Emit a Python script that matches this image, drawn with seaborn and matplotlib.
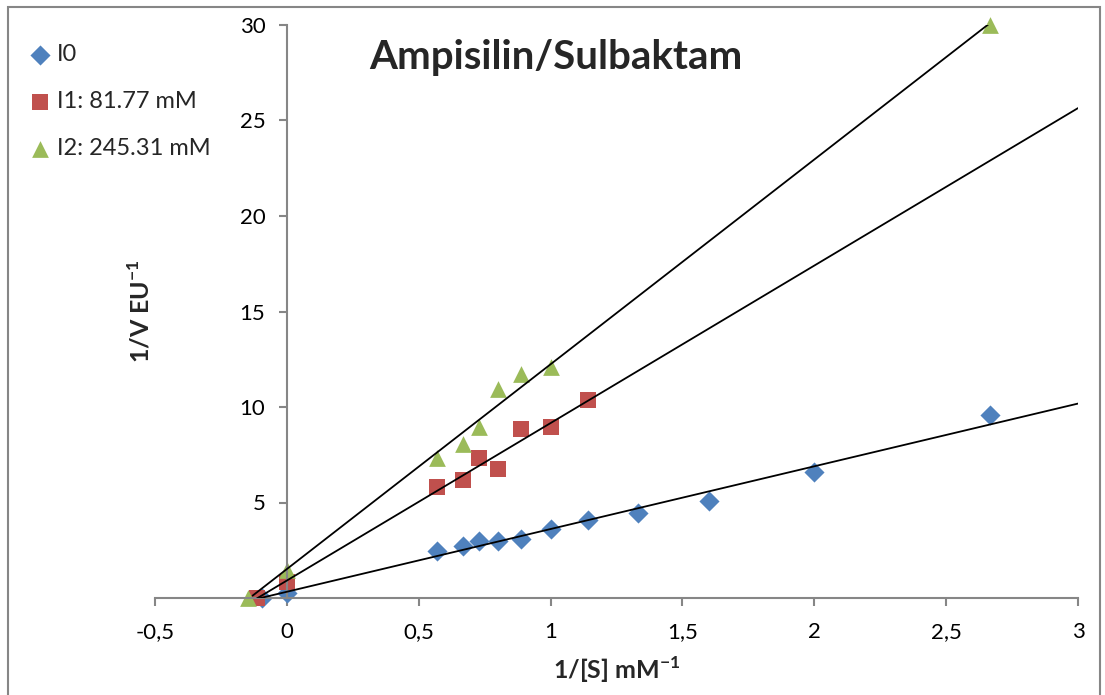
import numpy as np
import pandas as pd
import matplotlib
matplotlib.use("Agg")
import matplotlib.pyplot as plt
import matplotlib.patches as mpatches
from matplotlib.ticker import FixedLocator, FixedFormatter
import seaborn as sns

# Lineweaver-Burk data: 1/[S] (mM^-1) and 1/V (EU^-1)
i0_x = [-0.095, 0.0, 0.571, 0.667, 0.727, 0.800, 0.889, 1.000, 1.143, 1.333, 1.600, 2.000, 2.667]
i0_y = [0.0, 0.28, 2.48, 2.72, 2.97, 2.98, 3.07, 3.63, 4.07, 4.43, 5.10, 6.60, 9.60]

i1_x = [-0.114, 0.0, 0.571, 0.667, 0.727, 0.800, 0.889, 1.000, 1.143]
i1_y = [0.0, 0.85, 5.81, 6.19, 7.33, 6.74, 8.86, 8.95, 10.35]

i2_x = [-0.148, 0.0, 0.571, 0.667, 0.727, 0.800, 0.889, 1.000, 2.667]
i2_y = [0.0, 1.45, 7.31, 8.06, 8.94, 10.93, 11.74, 12.11, 30.0]

series_labels = ["I0", "I1: 81.77 mM", "I2: 245.31 mM"]
series_colors = ["#4F81BD", "#C0504D", "#9BBB59"]
series_markers = ["D", "s", "^"]
series_sizes = [105, 120, 145]

x_ticks = [-0.5, 0, 0.5, 1, 1.5, 2, 2.5, 3]
x_tick_labels = ["-0,5", "0", "0,5", "1", "1,5", "2", "2,5", "3"]
y_ticks = [0, 5, 10, 15, 20, 25, 30]
y_tick_labels = ["0", "5", "10", "15", "20", "25", "30"]

trend_start, trend_end = -0.13, 3.0

sns.set_theme(style="white")
plt.rcParams["font.family"] = ["Lato", "DejaVu Sans"]
plt.rcParams["mathtext.fontset"] = "custom"
plt.rcParams["mathtext.rm"] = "Lato"
plt.rcParams["mathtext.bf"] = "Lato:bold"

W, H = 1105, 695
fig = plt.figure(figsize=(W / 100, H / 100), dpi=100)
ax = fig.add_axes([155 / W, 1 - 598 / H, (1078 - 155) / W, (598 - 25) / H])

grey = "#868686"

frames = []
for xs, ys, lab in zip([i0_x, i1_x, i2_x], [i0_y, i1_y, i2_y], series_labels):
    frames.append(pd.DataFrame({"inv_s": xs, "inv_v": ys, "series": lab}))
df = pd.concat(frames, ignore_index=True)

# linear trend lines (least squares over each series)
xs_line = np.array([trend_start, trend_end])
for lab in series_labels:
    sub = df[df["series"] == lab]
    slope, icpt = np.polyfit(sub["inv_s"], sub["inv_v"], 1)
    line_df = pd.DataFrame({"inv_s": xs_line, "inv_v": slope * xs_line + icpt})
    sns.lineplot(data=line_df, x="inv_s", y="inv_v", ax=ax, color="black",
                 linewidth=1.3, legend=False, zorder=3)

for lab, col, mk, sz in zip(series_labels, series_colors, series_markers, series_sizes):
    sub = df[df["series"] == lab]
    sns.scatterplot(data=sub, x="inv_s", y="inv_v", ax=ax, color=col, marker=mk,
                    s=sz, linewidth=0, label=lab, clip_on=False, zorder=2, legend=False)

ax.set_xlim(-0.5, 3)
ax.set_ylim(0, 30)

ax.spines["left"].set_position(("data", 0))
for side in ["top", "right"]:
    ax.spines[side].set_visible(False)
for side in ["left", "bottom"]:
    ax.spines[side].set_color(grey)
    ax.spines[side].set_linewidth(1.5)

ax.xaxis.set_major_locator(FixedLocator(x_ticks))
ax.xaxis.set_major_formatter(FixedFormatter(x_tick_labels))
ax.yaxis.set_major_locator(FixedLocator(y_ticks))
ax.yaxis.set_major_formatter(FixedFormatter(y_tick_labels))
ax.tick_params(axis="x", direction="out", length=5.5, width=1.5, color=grey,
               labelsize=16, pad=12, labelcolor="black", bottom=True)
ax.tick_params(axis="y", direction="out", length=5.5, width=1.5, color=grey,
               labelsize=16, pad=10, labelcolor="black", left=True)

ax.set_xlabel(r"1/[S] mM$^{\mathbf{-1}}$", fontsize=18, fontweight="bold", va="center")
ax.xaxis.set_label_coords(0.5, (598 - 670) / 573)
ax.set_ylabel(r"1/V EU$^{\mathbf{-1}}$", fontsize=18, fontweight="bold", va="center")
ax.yaxis.set_label_coords((140 - 155) / 923, 0.5)

fig.text(556 / W, 1 - 57 / H, "Ampisilin/Sulbaktam", fontsize=29,
         fontweight="bold", ha="center", va="center")

handles, labels = ax.get_legend_handles_labels()
fig.legend(handles, labels, loc="upper left", bbox_to_anchor=(33 / W, 1 - 44 / H),
           frameon=False, fontsize=17, handlelength=0.6, handletextpad=0.4,
           labelspacing=1.1, borderaxespad=0, borderpad=0)

fig.add_artist(mpatches.Rectangle((8 / W, -0.02), (1100 - 8) / W, 1.02 - 7 / H,
                                  transform=fig.transFigure, fill=False,
                                  edgecolor=grey, linewidth=1.5))

fig.savefig("out.png", dpi=100)
